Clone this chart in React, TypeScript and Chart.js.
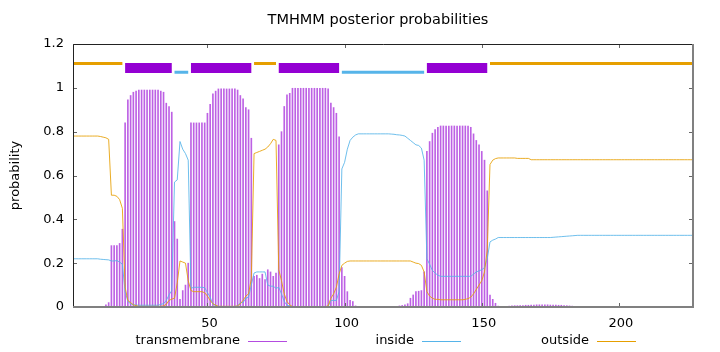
import React, { useEffect, useRef } from 'react';
import { Chart, registerables } from 'chart.js';

Chart.register(...registerables);

const chartTitle = 'TMHMM posterior probabilities';
const yAxisLabel = 'probability';
const seriesNames = ['transmembrane', 'inside', 'outside'];
const xMin = 1;
const xMax = 227;
const xTicks = [50, 100, 150, 200];
const yTicks = [0, 0.2, 0.4, 0.6, 0.8, 1, 1.2];

// posterior probability per residue (1..227)
const tmProb = [
  0, 0, 0, 0, 0, 0, 0, 0, 0, 0,
  0, 0, 0.01, 0.02, 0.28, 0.28, 0.28, 0.29, 0.355, 0.84,
  0.945, 0.965, 0.98, 0.985, 0.99, 0.99, 0.99, 0.99, 0.99, 0.99,
  0.99, 0.99, 0.985, 0.98, 0.93, 0.915, 0.889, 0.39, 0.31, 0.035,
  0.075, 0.1, 0.2, 0.84, 0.84, 0.84, 0.84, 0.84, 0.84, 0.884,
  0.925, 0.973, 0.985, 0.995, 0.995, 0.995, 0.995, 0.995, 0.995, 0.995,
  0.99, 0.965, 0.95, 0.91, 0.9, 0.77, 0.14, 0.145, 0.13, 0.15,
  0.125, 0.17, 0.16, 0.14, 0.155, 0.74, 0.8, 0.915, 0.968, 0.975,
  0.998, 0.998, 0.998, 0.998, 0.998, 0.998, 0.998, 0.998, 0.998, 0.998,
  0.998, 0.998, 0.998, 0.995, 0.93, 0.91, 0.884, 0.777, 0.18, 0.14,
  0.07, 0.03, 0.025, 0.005, 0, 0, 0, 0, 0, 0,
  0, 0, 0, 0, 0, 0, 0, 0, 0, 0.005,
  0.007, 0.01, 0.015, 0.04, 0.055, 0.07, 0.072, 0.075, 0.16, 0.71,
  0.755, 0.793, 0.81, 0.82, 0.826, 0.826, 0.826, 0.826, 0.826, 0.826,
  0.826, 0.826, 0.826, 0.826, 0.826, 0.82, 0.79, 0.76, 0.74, 0.71,
  0.67, 0.53, 0.054, 0.035, 0.017, 0.004, 0.002, 0.002, 0.002, 0.004,
  0.005, 0.006, 0.006, 0.007, 0.007, 0.008, 0.008, 0.009, 0.009, 0.01,
  0.01, 0.01, 0.01, 0.01, 0.009, 0.009, 0.009, 0.008, 0.008, 0.007,
  0.006, 0.005, 0.004, 0.003, 0.002, 0, 0, 0, 0, 0,
  0, 0, 0, 0, 0, 0, 0, 0, 0, 0,
  0, 0, 0, 0, 0, 0, 0, 0, 0, 0,
  0, 0, 0, 0, 0, 0, 0, 0, 0, 0,
  0, 0, 0, 0, 0, 0, 0,
];

const insideProb = [
  0.22, 0.22, 0.22, 0.22, 0.22, 0.22, 0.22, 0.22, 0.22, 0.22,
  0.218, 0.217, 0.216, 0.215, 0.21, 0.21, 0.212, 0.205, 0.195, 0.07,
  0.025, 0.015, 0.01, 0.009, 0.008, 0.008, 0.008, 0.008, 0.008, 0.008,
  0.008, 0.008, 0.012, 0.015, 0.03, 0.055, 0.075, 0.57, 0.58, 0.755,
  0.72, 0.7, 0.67, 0.085, 0.09, 0.09, 0.09, 0.09, 0.088, 0.066,
  0.045, 0.012, 0.007, 0.002, 0.002, 0.002, 0.002, 0.002, 0.002, 0.002,
  0.005, 0.02, 0.02, 0.04, 0.045, 0.1, 0.155, 0.16, 0.16, 0.16,
  0.16, 0.1, 0.095, 0.095, 0.085, 0.09, 0.06, 0.025, 0.008, 0.005,
  0.001, 0.001, 0.001, 0.001, 0.001, 0.001, 0.001, 0.001, 0.001, 0.001,
  0.001, 0.001, 0.001, 0.001, 0.03, 0.03, 0.03, 0.07, 0.63, 0.66,
  0.72, 0.76, 0.775, 0.785, 0.79, 0.79, 0.79, 0.79, 0.79, 0.79,
  0.79, 0.79, 0.79, 0.79, 0.79, 0.79, 0.789, 0.788, 0.786, 0.785,
  0.783, 0.78, 0.77, 0.76, 0.75, 0.74, 0.737, 0.725, 0.67, 0.22,
  0.195, 0.167, 0.155, 0.145, 0.14, 0.14, 0.14, 0.14, 0.14, 0.14,
  0.14, 0.14, 0.14, 0.14, 0.14, 0.14, 0.15, 0.16, 0.165, 0.17,
  0.18, 0.22, 0.297, 0.305, 0.31, 0.317, 0.317, 0.317, 0.317, 0.317,
  0.317, 0.317, 0.317, 0.317, 0.317, 0.317, 0.317, 0.317, 0.317, 0.317,
  0.317, 0.317, 0.317, 0.317, 0.317, 0.318, 0.319, 0.32, 0.321, 0.322,
  0.323, 0.324, 0.325, 0.326, 0.327, 0.327, 0.327, 0.327, 0.327, 0.327,
  0.327, 0.327, 0.327, 0.327, 0.327, 0.327, 0.327, 0.327, 0.327, 0.327,
  0.327, 0.327, 0.327, 0.327, 0.327, 0.327, 0.327, 0.327, 0.327, 0.327,
  0.327, 0.327, 0.327, 0.327, 0.327, 0.327, 0.327, 0.327, 0.327, 0.327,
  0.327, 0.327, 0.327, 0.327, 0.327, 0.327, 0.327,
];

const outsideProb = [
  0.78, 0.78, 0.78, 0.78, 0.78, 0.78, 0.78, 0.78, 0.78, 0.78,
  0.778, 0.775, 0.772, 0.765, 0.51, 0.51, 0.505, 0.49, 0.45, 0.09,
  0.03, 0.02, 0.01, 0.006, 0.003, 0.003, 0.003, 0.003, 0.003, 0.003,
  0.003, 0.003, 0.003, 0.005, 0.012, 0.03, 0.036, 0.04, 0.11, 0.21,
  0.205, 0.2, 0.12, 0.075, 0.07, 0.07, 0.07, 0.07, 0.065, 0.05,
  0.03, 0.015, 0.008, 0.003, 0.003, 0.003, 0.003, 0.003, 0.003, 0.003,
  0.005, 0.015, 0.03, 0.05, 0.06, 0.13, 0.7, 0.705, 0.71, 0.715,
  0.72, 0.73, 0.745, 0.765, 0.76, 0.17, 0.12, 0.06, 0.025, 0.01,
  0.002, 0.002, 0.002, 0.002, 0.002, 0.002, 0.002, 0.002, 0.002, 0.002,
  0.002, 0.002, 0.002, 0.005, 0.04, 0.06, 0.09, 0.15, 0.19, 0.2,
  0.208, 0.21, 0.21, 0.21, 0.21, 0.21, 0.21, 0.21, 0.21, 0.21,
  0.21, 0.21, 0.21, 0.21, 0.21, 0.21, 0.21, 0.21, 0.21, 0.21,
  0.21, 0.21, 0.21, 0.21, 0.205, 0.2, 0.198, 0.19, 0.16, 0.07,
  0.05, 0.04, 0.035, 0.035, 0.033, 0.033, 0.033, 0.033, 0.033, 0.033,
  0.033, 0.033, 0.033, 0.035, 0.038, 0.045, 0.06, 0.08, 0.1, 0.12,
  0.16, 0.26, 0.65, 0.67, 0.677, 0.68, 0.68, 0.68, 0.68, 0.68,
  0.68, 0.68, 0.678, 0.678, 0.678, 0.678, 0.678, 0.672, 0.672, 0.672,
  0.672, 0.672, 0.672, 0.672, 0.672, 0.672, 0.672, 0.672, 0.672, 0.672,
  0.672, 0.672, 0.672, 0.672, 0.672, 0.672, 0.672, 0.672, 0.672, 0.672,
  0.672, 0.672, 0.672, 0.672, 0.672, 0.672, 0.672, 0.672, 0.672, 0.672,
  0.672, 0.672, 0.672, 0.672, 0.672, 0.672, 0.672, 0.672, 0.672, 0.672,
  0.672, 0.672, 0.672, 0.672, 0.672, 0.672, 0.672, 0.672, 0.672, 0.672,
  0.672, 0.672, 0.672, 0.672, 0.672, 0.672, 0.672,
];

// predicted topology (residue ranges)
const tmRegions = [[20, 37], [44, 66], [76, 98], [130, 152]];
const insideRegions = [[38, 43], [99, 129]];
const outsideRegions = [[1, 19], [67, 75], [153, 227]];

const PURPLE = '#9400D3';
const BLUE = '#56B4E9';
const ORANGE = '#E69F00';
const FONT = '"DejaVu Sans", sans-serif';

const toPoints = (vals: number[]) => vals.map((y, i) => ({ x: i + 1, y }));
const segPoints = (regions: number[][], level: number) =>
  regions.flatMap(([s, e]) => [
    { x: s, y: level },
    { x: e, y: level },
    { x: e, y: null as any },
  ]);

const decorPlugin = {
  id: 'decor',
  afterDraw(chart: any) {
    const { ctx, chartArea: a, scales } = chart;
    ctx.save();
    // inward tick marks
    ctx.strokeStyle = '#666';
    ctx.lineWidth = 1;
    ctx.beginPath();
    yTicks.forEach((v) => {
      const y = Math.round(scales.y.getPixelForValue(v)) + 0.5;
      ctx.moveTo(a.left, y);
      ctx.lineTo(a.left + 4, y);
      ctx.moveTo(a.right, y);
      ctx.lineTo(a.right - 4, y);
    });
    xTicks.forEach((v) => {
      const x = Math.round(scales.x.getPixelForValue(v)) + 0.5;
      ctx.moveTo(x, a.top);
      ctx.lineTo(x, a.top + 4);
      ctx.moveTo(x, a.bottom);
      ctx.lineTo(x, a.bottom - 4);
    });
    ctx.stroke();
    // border
    ctx.strokeStyle = '#222';
    ctx.lineWidth = 1;
    ctx.beginPath();
    ctx.moveTo(a.left + 0.5, a.bottom);
    ctx.lineTo(a.left + 0.5, a.top + 0.5);
    ctx.lineTo(a.right, a.top + 0.5);
    ctx.stroke();
    ctx.strokeStyle = '#808080';
    ctx.lineWidth = 2;
    ctx.beginPath();
    ctx.moveTo(a.left, a.bottom);
    ctx.lineTo(a.right, a.bottom);
    ctx.lineTo(a.right, a.top);
    ctx.stroke();

    // title
    ctx.fillStyle = '#000';
    ctx.font = `14.5px ${FONT}`;
    ctx.textAlign = 'center';
    ctx.textBaseline = 'middle';
    ctx.fillText(chartTitle, 378, 20);

    // y axis label
    ctx.font = `13px ${FONT}`;
    ctx.save();
    ctx.translate(16, (a.top + a.bottom) / 2);
    ctx.rotate(-Math.PI / 2);
    ctx.fillText(yAxisLabel, 0, 0);
    ctx.restore();

    // legend (text, then sample line)
    const colors = ['rgba(148,0,211,0.7)', BLUE, ORANGE];
    const lineStarts = [248, 422, 597];
    ctx.textAlign = 'right';
    seriesNames.forEach((name, i) => {
      const ls = lineStarts[i];
      ctx.fillStyle = '#000';
      ctx.fillText(name, ls - 8, 341);
      ctx.strokeStyle = colors[i];
      ctx.lineWidth = 1;
      ctx.beginPath();
      ctx.moveTo(ls, 341.5);
      ctx.lineTo(ls + 39, 341.5);
      ctx.stroke();
    });
    ctx.restore();
  },
};

export default function App() {
  const ref = useRef<HTMLCanvasElement>(null);
  useEffect(() => {
    const chart = new Chart(ref.current as HTMLCanvasElement, {
      type: 'line',
      data: {
        datasets: [
          {
            type: 'line',
            label: seriesNames[2],
            data: toPoints(outsideProb),
            borderColor: 'rgba(230,159,0,0.85)',
            borderWidth: 1,
            pointRadius: 0,
            tension: 0,
            order: 1,
          },
          {
            type: 'line',
            label: seriesNames[1],
            data: toPoints(insideProb),
            borderColor: 'rgba(86,180,233,0.85)',
            borderWidth: 1,
            pointRadius: 0,
            tension: 0,
            order: 2,
          },
          {
            type: 'bar',
            label: seriesNames[0],
            data: toPoints(tmProb),
            backgroundColor: 'rgba(148,0,211,0.62)',
            borderWidth: 0,
            barThickness: 1,
            order: 5,
          } as any,
          {
            type: 'line',
            label: 'outside-region',
            data: segPoints(outsideRegions, 1.111),
            borderColor: ORANGE,
            borderWidth: 3,
            pointRadius: 0,
            spanGaps: false,
            order: 3,
          },
          {
            type: 'line',
            label: 'tm-region',
            data: segPoints(tmRegions, 1.0905),
            borderColor: PURPLE,
            borderWidth: 10,
            pointRadius: 0,
            spanGaps: false,
            order: 3,
          },
          {
            type: 'line',
            label: 'inside-region',
            data: segPoints(insideRegions, 1.071),
            borderColor: BLUE,
            borderWidth: 3,
            pointRadius: 0,
            spanGaps: false,
            order: 3,
          },
        ],
      },
      options: {
        animation: false,
        responsive: false,
        devicePixelRatio: 1,
        layout: { padding: { top: 44, right: 27, left: 0, bottom: 0 } },
        plugins: {
          legend: { display: false },
          title: { display: false },
          tooltip: { enabled: false },
        },
        scales: {
          x: {
            type: 'linear',
            min: xMin,
            max: xMax,
            offset: false,
            grid: { display: false, drawTicks: false },
            border: { display: false },
            ticks: {
              padding: 9,
              labelOffset: 2,
              color: '#000',
              font: { family: FONT, size: 13 },
              callback: (v: any) => String(v),
            },
            afterBuildTicks: (s: any) => {
              s.ticks = xTicks.map((v) => ({ value: v }));
            },
            afterFit: (s: any) => {
              s.height = 45;
            },
          },
          y: {
            type: 'linear',
            min: 0,
            max: 1.2,
            grid: { display: false, drawTicks: false },
            border: { display: false },
            ticks: {
              padding: 9,
              color: '#000',
              font: { family: FONT, size: 13 },
              callback: (v: any) => String(Number(Number(v).toFixed(2))),
            },
            afterBuildTicks: (s: any) => {
              s.ticks = yTicks.map((v) => ({ value: v }));
            },
            afterFit: (s: any) => {
              s.width = 73;
            },
          },
        },
      } as any,
      plugins: [decorPlugin],
    });
    return () => chart.destroy();
  }, []);
  return (
    <div style={{ position: 'fixed', left: 0, top: 0, width: 720, height: 352, background: '#fff' }}>
      <canvas ref={ref} width={720} height={352} style={{ display: 'block', width: 720, height: 352 }} />
    </div>
  );
}
